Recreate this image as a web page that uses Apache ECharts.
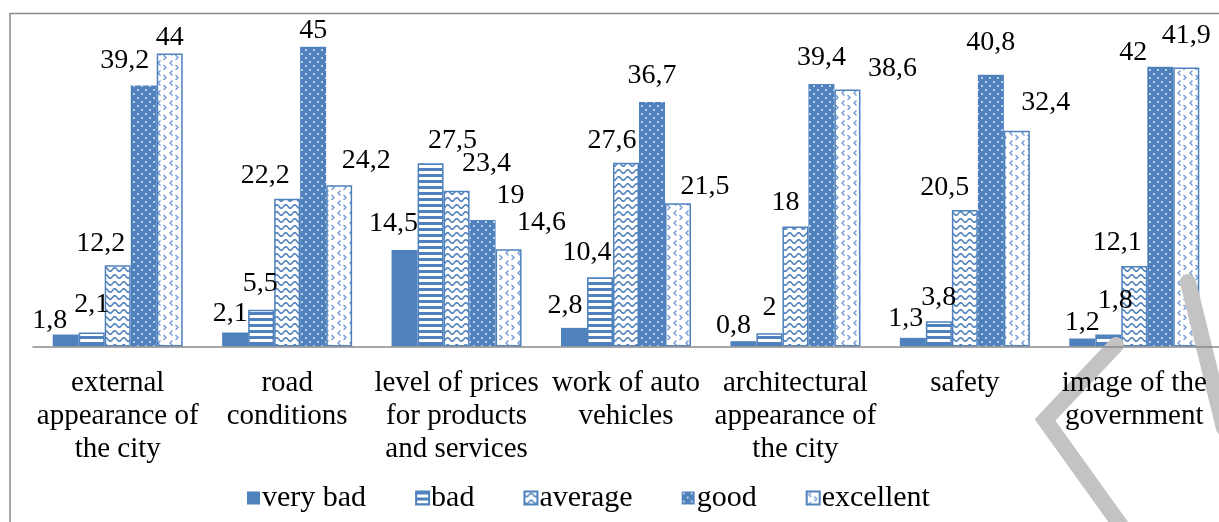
<!DOCTYPE html>
<html>
<head>
<meta charset="utf-8">
<title>city survey</title>
<script src="https://cdn.jsdelivr.net/npm/echarts@6/dist/echarts.min.js"></script>
<style>
  html, body { margin: 0; padding: 0; background: #fff; }
  #box { width: 1219px; height: 522px; }
</style>
</head>
<body>
<div id="box"></div>
<script>
// data
const categories = [
  "external\nappearance of\nthe city",
  "road\nconditions",
  "level of prices\nfor products\nand services",
  "work of auto\nvehicles",
  "architectural\nappearance of\nthe city",
  "safety",
  "image of the\ngovernment"
];
const seriesNames = ["very bad", "bad", "average", "good", "excellent"];
const veryBad = [1.8, 2.1, 14.5, 2.8, 0.8, 1.3, 1.2];
const bad = [2.1, 5.5, 27.5, 10.4, 2, 3.8, 1.8];
const average = [12.2, 22.2, 23.4, 27.6, 18, 20.5, 12.1];
const good = [39.2, 45, 19, 36.7, 39.4, 40.8, 42];
const excellent = [44, 24.2, 14.6, 21.5, 38.6, 32.4, 41.9];

// label nudges (the labels in the original were moved by hand)
const labelShift = [
  [[-16, 2], [-5, -3], [-11, -10], [-9, -6], [-10, 0], [-7, -3], [0, 0]],
  [[0, -12], [-1, -10], [22, -7], [-13, -9], [0, -10], [0, -8], [7, -18]],
  [[-17, -6], [-22, -7], [30, -11], [-14, -6], [-10, -8], [-20, -6], [-17, -7]],
  [[-19, -9], [0, 0], [28, -8], [0, -10], [0, -10], [0, -16], [-27, 2]],
  [[0, 0], [27, -9], [33, -11], [27, -1], [45, -5], [29, -12], [0, -16]]
];

const BLUE = "#4f81bd";
const FONT = "Liberation Serif";

// fill patterns
function tile(w, h, draw) {
  const c = document.createElement("canvas");
  c.width = w;
  c.height = h;
  const ctx = c.getContext("2d");
  ctx.fillStyle = "#fff";
  ctx.fillRect(0, 0, w, h);
  draw(ctx);
  return { image: c, repeat: "repeat" };
}

const stripes = tile(8, 6, ctx => {
  ctx.fillStyle = BLUE;
  ctx.fillRect(0, 0, 8, 3);
});

const waves = tile(9, 7, ctx => {
  ctx.strokeStyle = "#4f81bd";
  ctx.lineWidth = 1.5;
  ctx.beginPath();
  for (let x = -1; x <= 10; x += 0.5) {
    const y = 3.5 + 1.8 * Math.sin((x / 9) * Math.PI * 2);
    if (x === -1) ctx.moveTo(x, y); else ctx.lineTo(x, y);
  }
  ctx.stroke();
});

const dots = tile(8, 8, ctx => {
  ctx.fillStyle = BLUE;
  ctx.fillRect(0, 0, 8, 8);
  ctx.fillStyle = "#dfe8f4";
  [[2, 2], [6, 6]].forEach(p => {
    ctx.beginPath();
    ctx.arc(p[0], p[1], 1, 0, Math.PI * 2);
    ctx.fill();
  });
});

const chevrons = tile(12, 10, ctx => {
  ctx.strokeStyle = "#6d96cf";
  ctx.lineWidth = 1.3;
  ctx.beginPath();
  ctx.moveTo(4.5, 0.5); ctx.lineTo(2, 3); ctx.lineTo(4.5, 5.5);
  ctx.moveTo(7.5, 5); ctx.lineTo(10, 7.5); ctx.lineTo(7.5, 10);
  ctx.stroke();
});

const fills = [BLUE, stripes, waves, dots, chevrons];
const borders = [null, BLUE, BLUE, null, BLUE];
const values = [veryBad, bad, average, good, excellent];

function makeSeries(k) {
  return {
    name: seriesNames[k],
    type: "bar",
    barWidth: 26,
    barGap: "0%",
    data: values[k].map((v, i) => ({ value: v, label: { offset: labelShift[k][i] } })),
    itemStyle: {
      color: fills[k],
      borderColor: borders[k] || BLUE,
      borderWidth: borders[k] ? 1.5 : 0
    },
    label: {
      show: true,
      position: "top",
      distance: 2,
      color: "#000",
      fontFamily: FONT,
      fontSize: 28,
      formatter: p => String(p.value).replace(".", ",")
    }
  };
}

let option = {
  backgroundColor: "#fff",
  animation: false,
  grid: { left: 33, top: 13.5, width: 1187, height: 333 },
  legend: {
    data: seriesNames.map(n => ({ name: n, icon: "rect" })),
    left: 242,
    top: 478,
    itemWidth: 13,
    itemHeight: 13,
    itemGap: 49,
    textStyle: { fontFamily: FONT, fontSize: 30, color: "#000", padding: [0, 0, 0, -3] }
  },
  xAxis: {
    type: "category",
    data: categories,
    z: 5,
    axisLine: { lineStyle: { color: "#8a8a8a", width: 1.5 } },
    axisTick: { length: 8, lineStyle: { color: "#8a8a8a", width: 1.5 } },
    axisLabel: {
      interval: 0,
      margin: 20,
      color: "#000",
      fontFamily: FONT,
      fontSize: 29,
      lineHeight: 33
    }
  },
  yAxis: { type: "value", min: 0, max: 50, show: false, splitLine: { show: false } },
  graphic: [
    // outer frame of the chart (right and bottom edges fall outside the picture)
    {
      type: "polyline",
      shape: { points: [[10, 530], [10, 13.5], [1230, 13.5]] },
      style: { stroke: "#8a8a8a", lineWidth: 1.5, fill: null },
      z: 1
    },
    // grey watermark strokes in the corner, over the bars
    {
      type: "polyline",
      shape: { points: [[1188, 282], [1224, 428]] },
      style: { stroke: "#c3c3c3", lineWidth: 16, fill: null, lineCap: "round" },
      z: 3
    },
    {
      type: "polyline",
      shape: { points: [[1116, 345], [1045, 420], [1124, 530]] },
      style: { stroke: "#c3c3c3", lineWidth: 16, fill: null, lineCap: "round", lineJoin: "miter" },
      z: 3
    }
  ],
  series: [0, 1, 2, 3, 4].map(makeSeries)
};

echarts.init(document.getElementById("box")).setOption(option);
</script>
</body>
</html>
